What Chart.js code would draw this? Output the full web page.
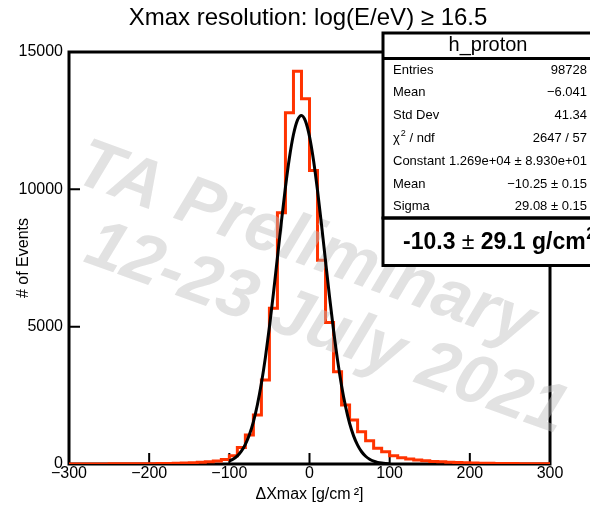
<!DOCTYPE html>
<html><head><meta charset="utf-8">
<script src="https://cdn.jsdelivr.net/npm/chart.js@4/dist/chart.umd.min.js"></script>
<style>html,body{margin:0;padding:0;background:#fff;overflow:hidden}#wrap{width:590px;height:508px;position:relative}</style>
</head><body><div id="wrap"><canvas id="c" width="590" height="508"></canvas></div>
<script>
// ---- data ----
const binStart = [-300,-290,-280,-270,-260,-250,-240,-230,-220,-210,
  -200,-190,-180,-170,-160,-150,-140,-130,-120,-110,
  -100,-90,-80,-70,-60,-50,-40,-30,-20,-10,
  0,10,20,30,40,50,60,70,80,90,
  100,110,120,130,140,150,160,170,180,190,
  200,210,220,230,240,250,260,270,280,290];
const binEnd = 300;
const counts = [2,3,3,4,4,5,6,7,9,11,
  13,16,20,26,34,45,60,80,110,160,
  300,600,1055,1782,3054,5670,9152,12790,14300,13300,
  10690,7420,5150,3356,2145,1600,1175,850,570,447,
  300,230,180,145,115,95,78,64,52,43,
  36,30,25,20,17,14,12,10,8,7];
const fitX = [-100,-95,-90,-85,-80,-75,-70,-65,-60,-55,-50,-45,-40,-35,-30,-25,-20,-15,-10,-5,
  0,5,10,15,20,25,30,35,40,45,50,55,60,65,70,75,80,85,90,95,100];
const fitY = [108,181,295,466,715,1064,1537,2156,2937,3883,4986,6214,7519,8835,10077,11158,11996,12521,12690,12484,
  11926,11060,9958,8704,7387,6087,4869,3781,2852,2087,1483,1024,686,446,282,173,103,59,33,18,10];
const xTicks = [-300,-200,-100,0,100,200,300];
const yTicks = [0,5000,10000,15000];
const titleText = 'Xmax resolution: log(E/eV) \u2265 16.5';
const xTitle = '\u0394Xmax [g/cm\u2009\u00B2]';
const yTitle = '# of Events';
const statHeader = 'h_proton';
const statNames = ['Entries','Mean','Std Dev','\u03C7|2| / ndf','Constant','Mean','Sigma'];
const statValues = ['98728','\u22126.041','41.34','2647 / 57','1.269e+04 \u00B1 8.930e+01','\u221210.25 \u00B1 0.15','29.08 \u00B1 0.15'];
const resultParts = ['-10.3 ', '\u00B1', ' 29.1 g/cm', '2'];
const watermark = ['TA Preliminary', '12-23 July 2021'];

const FONT = '"Liberation Sans", Arial, Helvetica, sans-serif';
const fmt = v => (v < 0 ? '\u2212' + Math.abs(v) : String(v));

const framePlugin = {
  id: 'frame',
  beforeDatasetsDraw(chart) {
    const ctx = chart.ctx, a = chart.chartArea, xs = chart.scales.x, ys = chart.scales.y;
    ctx.save();
    ctx.strokeStyle = '#000';
    ctx.lineWidth = 2;
    ctx.beginPath();
    xTicks.forEach(v => { const p = xs.getPixelForValue(v); ctx.moveTo(p, a.bottom); ctx.lineTo(p, a.bottom - 11); });
    yTicks.forEach(v => { const p = ys.getPixelForValue(v); ctx.moveTo(a.left, p); ctx.lineTo(a.left + 11, p); });
    ctx.stroke();
    ctx.lineWidth = 3;
    ctx.strokeRect(a.left, a.top, a.right - a.left, a.bottom - a.top);
    ctx.restore();
  },
  afterDatasetDraw(chart, args) {
    if (args.index !== 1) return;
    const ctx = chart.ctx;
    ctx.save();
    ctx.fillStyle = 'rgba(190,190,190,0.45)';
    ctx.font = 'italic bold 69px ' + FONT;
    ctx.textBaseline = 'alphabetic';
    const ang = 20 * Math.PI / 180;
    const pos = [[72, 181], [82, 261]];
    watermark.forEach((t, i) => {
      ctx.save(); ctx.translate(pos[i][0], pos[i][1]); ctx.rotate(ang); ctx.fillText(t, 0, 0); ctx.restore();
    });
    ctx.restore();
  },
  afterDraw(chart) {
    const ctx = chart.ctx;
    ctx.save();
    // title
    ctx.fillStyle = '#000';
    ctx.font = '24px ' + FONT;
    ctx.textAlign = 'center';
    ctx.textBaseline = 'alphabetic';
    ctx.fillText(titleText, 308, 25);
    // stats box
    ctx.fillStyle = '#fff';
    ctx.fillRect(383, 33, 215, 233);
    ctx.strokeStyle = '#000';
    ctx.lineWidth = 3;
    ctx.strokeRect(383, 33, 220, 185);
    ctx.strokeRect(383, 218, 220, 47.5);
    ctx.beginPath(); ctx.moveTo(383, 58.5); ctx.lineTo(600, 58.5); ctx.stroke();
    ctx.fillStyle = '#000';
    ctx.font = '20px ' + FONT;
    ctx.textAlign = 'center';
    ctx.textBaseline = 'alphabetic';
    ctx.fillText(statHeader, 488, 51);
    ctx.font = '13px ' + FONT;
    ctx.textBaseline = 'middle';
    statNames.forEach((n, i) => {
      const y = 70 + i * 22.8;
      ctx.textAlign = 'left';
      if (n.indexOf('|') >= 0) {
        const parts = n.split('|');
        ctx.font = '13px ' + FONT;
        ctx.fillText(parts[0], 393, y);
        let x = 393 + ctx.measureText(parts[0]).width + 1;
        ctx.font = '9px ' + FONT;
        ctx.fillText(parts[1], x, y - 5);
        x += ctx.measureText(parts[1]).width;
        ctx.font = '13px ' + FONT;
        ctx.fillText(parts[2], x, y);
      } else {
        ctx.font = '13px ' + FONT;
        ctx.fillText(n, 393, y);
      }
      ctx.textAlign = 'right';
      ctx.fillText(statValues[i], 587, y);
    });
    // result line
    ctx.textAlign = 'left';
    ctx.textBaseline = 'alphabetic';
    let x = 403;
    const base = 249;
    const fonts = ['bold 23px ' + FONT, '23px ' + FONT, 'bold 23px ' + FONT, 'bold 16px ' + FONT];
    resultParts.forEach((p, i) => {
      ctx.font = fonts[i];
      ctx.fillText(p, x, i === 3 ? base - 10 : base);
      x += ctx.measureText(p).width + (i === 2 ? 0.5 : 0);
    });
    ctx.restore();
  }
};

const histData = binStart.map((x, i) => ({x: x, y: counts[i]}));
histData.push({x: binEnd, y: counts[counts.length - 1]});
const fitData = fitX.map((x, i) => ({x: x, y: fitY[i]}));

Chart.defaults.color = '#000';
new Chart(document.getElementById('c'), {
  type: 'line',
  data: {
    datasets: [
      {data: fitData, borderColor: '#000', borderWidth: 3, pointRadius: 0, cubicInterpolationMode: 'monotone', fill: false},
      {data: histData, borderColor: '#ff3300', borderWidth: 3, pointRadius: 0, stepped: 'before', fill: false}
    ]
  },
  options: {
    responsive: false,
    animation: false,
    devicePixelRatio: 1,
    layout: {padding: {left: 0, top: 52, right: 40, bottom: 0}},
    plugins: {legend: {display: false}, title: {display: false}, tooltip: {enabled: false}},
    scales: {
      x: {
        type: 'linear', min: -300, max: 300,
        grid: {display: false, drawTicks: false},
        border: {display: false},
        afterBuildTicks: s => { s.ticks = xTicks.map(v => ({value: v})); },
        afterFit: s => { s.height = 44; },
        ticks: {font: {family: FONT, size: 16}, color: '#000', padding: 0, maxRotation: 0, autoSkip: false, callback: v => fmt(v)},
        title: {display: true, text: xTitle, font: {family: FONT, size: 16}, color: '#000', padding: {top: 0, bottom: 4}}
      },
      y: {
        type: 'linear', min: 0, max: 15000,
        grid: {display: false, drawTicks: false},
        border: {display: false},
        afterBuildTicks: s => { s.ticks = yTicks.map(v => ({value: v})); },
        afterFit: s => { s.width = 69; },
        ticks: {font: {family: FONT, size: 16}, color: '#000', padding: 6, callback: v => String(v)},
        title: {display: true, text: yTitle, font: {family: FONT, size: 16}, color: '#000', padding: {top: 14, bottom: 0}}
      }
    }
  },
  plugins: [framePlugin]
});
</script>
</body></html>
